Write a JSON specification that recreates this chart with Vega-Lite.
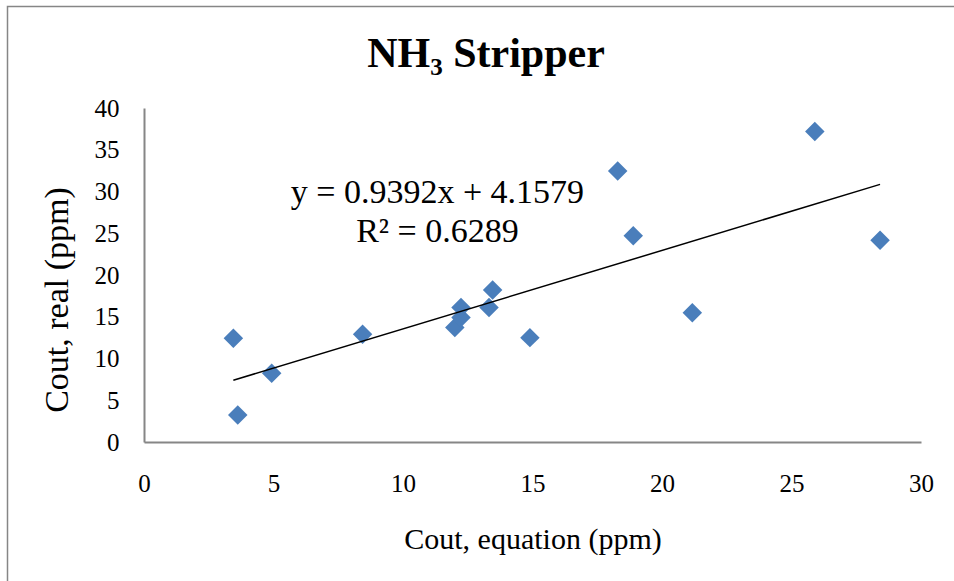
{
  "$schema": "https://vega.github.io/schema/vega-lite/v6.json",
  "autosize": "none",
  "padding": {"left": 7.5, "top": 6.5, "right": 0, "bottom": 0},
  "width": 957,
  "height": 590,
  "background": "white",
  "title": {
    "text": "NH₃ Stripper",
    "font": "Liberation Serif",
    "fontSize": 42,
    "fontWeight": "bold",
    "color": "black",
    "anchor": "middle",
    "frame": "group",
    "baseline": "alphabetic",
    "offset": -61,
    "dy": 41
  },
  "config": {
    "view": {"stroke": "#868686", "strokeWidth": 1.5},
    "axis": {"grid": false, "ticks": false, "tickSize": 0, "domainColor": "#868686", "domainWidth": 2, "labelFont": "Liberation Serif", "labelFontSize": 25, "labelColor": "black", "labelOverlap": false, "labelFlush": false, "titleFont": "Liberation Serif", "titleFontWeight": "normal", "titleColor": "black"}
  },
  "datasets": {
    "points": [
      {"x": 3.45, "y": 12.42},
      {"x": 3.62, "y": 3.23},
      {"x": 4.93, "y": 8.23},
      {"x": 8.44, "y": 12.9},
      {"x": 12.0, "y": 13.7},
      {"x": 12.24, "y": 14.9},
      {"x": 12.24, "y": 16.1},
      {"x": 13.32, "y": 16.1},
      {"x": 13.46, "y": 18.2},
      {"x": 14.9, "y": 12.5},
      {"x": 18.29, "y": 32.45},
      {"x": 18.89, "y": 24.7},
      {"x": 21.17, "y": 15.49},
      {"x": 25.9, "y": 37.2},
      {"x": 28.42, "y": 24.16}
    ],
    "trend": [
      {"x": 3.45, "y": 7.40},
      {"x": 28.42, "y": 30.85}
    ],
    "fit": [
      {"x": 11.33, "y": 28.62}
    ]
  },
  "layer": [
    {
      "data": {"name": "points"},
      "mark": {"type": "point", "shape": "diamond", "filled": true, "color": "#4A7EBB", "opacity": 1, "size": 380},
      "encoding": {
        "x": {
          "field": "x",
          "type": "quantitative",
          "scale": {"domain": [0, 30], "range": [136.5, 913.5], "nice": false, "zero": false},
          "axis": {
            "orient": "bottom",
            "offset": -154.5,
            "values": [0, 5, 10, 15, 20, 25, 30],
            "labelPadding": 29,
            "title": "Cout, equation (ppm)",
            "titleFontSize": 30,
            "titleX": 525,
            "titleY": 106,
            "titleBaseline": "alphabetic",
            "titleAlign": "center"
          }
        },
        "y": {
          "field": "y",
          "type": "quantitative",
          "scale": {"domain": [0, 40], "range": [435.5, 101.5], "nice": false, "zero": false},
          "axis": {
            "orient": "left",
            "offset": -136.5,
            "values": [0, 5, 10, 15, 20, 25, 30, 35, 40],
            "labelPadding": 25,
            "title": "Cout, real (ppm)",
            "titleFontSize": 34,
            "titleAngle": -90,
            "titleX": -76.5,
            "titleY": 293,
            "titleBaseline": "alphabetic",
            "titleAlign": "center"
          }
        }
      }
    },
    {
      "data": {"name": "trend"},
      "mark": {"type": "line", "color": "black", "strokeWidth": 1.5},
      "encoding": {
        "x": {"field": "x", "type": "quantitative"},
        "y": {"field": "y", "type": "quantitative"}
      }
    },
    {
      "data": {"name": "fit"},
      "mark": {"type": "text", "font": "Liberation Serif", "fontSize": 34, "color": "black", "align": "center", "baseline": "alphabetic", "lineHeight": 39},
      "encoding": {
        "x": {"field": "x", "type": "quantitative"},
        "y": {"field": "y", "type": "quantitative"},
        "text": {"value": ["y = 0.9392x + 4.1579", "R² = 0.6289"]}
      }
    }
  ]
}
